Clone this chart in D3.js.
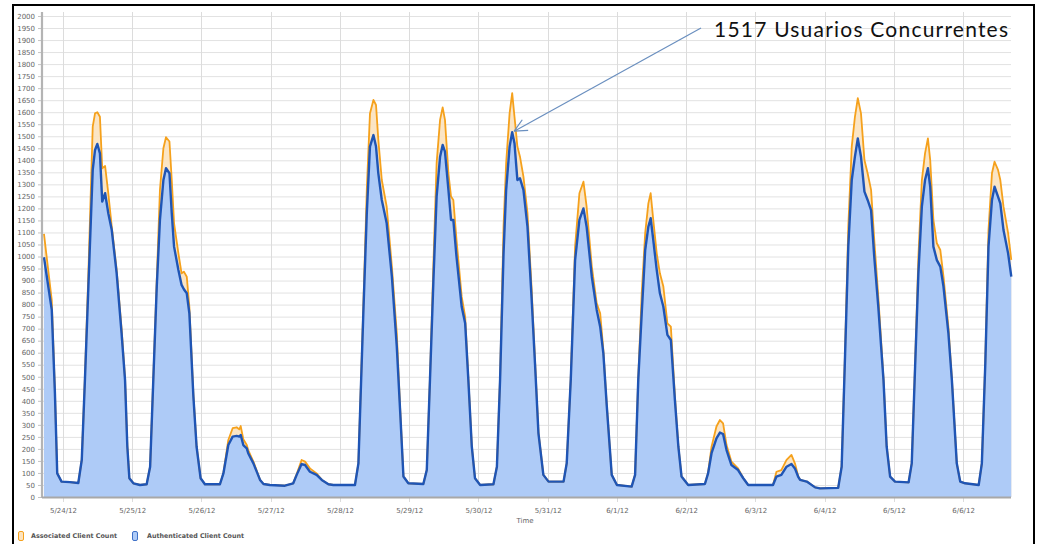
<!DOCTYPE html>
<html><head><meta charset="utf-8">
<script src="https://cdn.jsdelivr.net/npm/d3@7"></script>
<style>html,body{margin:0;padding:0;background:#fff;}svg{display:block;}</style>
</head><body>
<svg id="c" width="1039" height="544"></svg>
<script>
// hours after 5/24/12 00:00
const hours = [-6.6,-3.9,-2.8,-2.0,-0.5,2.4,5.3,6.5,7.6,8.8,10.3,11.1,11.9,12.8,13.6,14.6,15.7,16.9,18.6,20.3,21.5,22.3,23.0,24.4,26.7,29.0,30.2,31.3,32.5,33.6,34.8,35.7,36.9,37.7,38.5,40.0,41.1,41.9,42.9,43.8,45.2,46.3,47.7,49.2,54.4,55.6,57.3,58.8,60.2,61.1,61.6,62.5,63.7,64.2,66.0,68.3,69.5,71.7,76.9,79.8,81.0,82.7,83.9,85.6,87.9,89.7,92.0,93.7,101.2,102.4,104.1,105.3,106.4,107.6,108.5,109.3,110.5,112.2,114.0,115.7,116.9,118.0,119.7,124.9,126.1,127.2,128.4,129.5,130.7,131.6,132.4,133.6,134.5,135.3,136.4,138.2,139.4,140.5,141.7,142.8,144.6,149.2,150.4,151.5,152.7,153.6,154.8,155.7,156.5,157.5,158.4,159.6,161.0,162.4,163.6,164.8,166.5,168.3,173.5,174.6,176.0,177.5,179.0,180.4,181.5,183.3,185.0,186.2,187.3,188.5,190.2,192.0,197.1,198.3,199.4,200.6,201.8,202.9,203.7,204.6,205.8,206.9,208.1,209.5,210.7,212.1,213.3,214.4,216.7,222.5,223.6,224.8,226.5,227.7,228.8,230.0,231.7,234.0,235.8,237.5,246.1,247.3,249.0,250.8,252.5,253.7,254.8,255.5,257.8,260.7,262.4,268.7,269.9,271.0,272.2,273.4,274.5,275.5,276.6,277.8,278.9,280.1,281.2,282.6,284.4,285.5,286.7,288.4,293.1,294.2,295.4,296.5,297.7,298.8,299.8,300.6,301.7,302.9,304.1,305.2,306.9,308.1,309.8,311.0,312.7,317.4,318.5,319.7,320.8,322.0,322.9,324.1,324.9,326.0,327.6,328.7];
const authenticated = [997,778,431,98,64,62,58,154,487,875,1360,1443,1468,1429,1228,1263,1180,1110,930,681,487,209,78,57,50,53,126,487,875,1152,1318,1367,1346,1180,1041,944,882,864,847,764,417,209,78,53,53,98,216,251,254,251,258,216,202,182,140,71,54,50,47,57,92,137,133,105,92,71,53,50,50,140,764,1180,1457,1505,1457,1346,1235,1138,916,625,348,85,57,54,112,487,902,1249,1415,1464,1436,1277,1152,1152,999,791,722,487,209,78,50,53,126,487,1013,1277,1457,1517,1471,1318,1325,1277,1124,833,556,265,92,64,64,140,487,985,1152,1200,1124,916,778,708,597,376,92,50,43,92,487,764,1027,1124,1159,1069,944,847,791,674,653,403,209,85,50,54,98,182,244,268,262,195,133,112,78,50,50,85,92,126,137,119,85,71,64,40,36,38,126,556,1041,1318,1415,1491,1415,1270,1235,1193,999,791,487,209,85,64,61,140,556,930,1207,1318,1367,1290,1041,985,958,875,681,487,140,64,57,50,140,556,1041,1235,1290,1249,1221,1110,1013,916];
const associated = [1094,819,440,98,64,62,58,154,500,930,1540,1595,1600,1581,1367,1376,1263,1124,944,701,495,212,78,57,50,53,126,495,902,1277,1450,1496,1478,1318,1138,1013,930,937,916,791,425,212,78,53,53,100,237,286,290,281,295,240,216,195,147,71,54,50,47,57,95,154,147,119,98,71,53,50,50,140,790,1277,1595,1651,1630,1485,1318,1207,958,681,360,85,57,54,112,495,972,1387,1568,1620,1568,1346,1249,1235,1069,833,750,495,212,78,50,53,126,495,1124,1387,1595,1679,1581,1457,1415,1332,1180,875,570,270,92,64,64,140,495,1041,1263,1311,1207,958,805,764,611,380,92,50,43,92,495,847,1097,1221,1263,1152,1013,930,875,722,708,420,212,85,50,54,100,209,293,320,306,216,147,119,78,50,50,105,112,154,175,140,88,71,64,40,36,38,126,570,1124,1457,1581,1658,1595,1401,1346,1277,1069,833,495,212,85,64,61,140,570,999,1318,1429,1491,1401,1152,1055,1027,916,708,495,140,64,57,50,140,570,1110,1346,1394,1360,1318,1207,1097,986];
const dayTickLabels = ["5/24/12","5/25/12","5/26/12","5/27/12","5/28/12","5/29/12","5/30/12","5/31/12","6/1/12","6/2/12","6/3/12","6/4/12","6/5/12","6/6/12"];
const yTickValues = d3.range(0, 2001, 50);
const seriesNames = ["Associated Client Count","Authenticated Client Count"];
const annotationText = "1517 Usuarios  Concurrentes";
const annotationHour = 155.7, annotationValue = 1517;

const base = Date.UTC(2012,4,24);
const t = h => new Date(base + h*3600e3);
const data = hours.map((h,i)=>({t:t(h), a:authenticated[i], s:associated[i]}));

const svg = d3.select("#c");
const L=42, R=1011, T=16, B=497;
const x = d3.scaleUtc().domain([t(-7.28), t(328.6)]).range([L,R]);
const y = d3.scaleLinear().domain([0,2000]).range([B,T]);
const dayTicks = dayTickLabels.map((_,i)=>t(i*24));

// frame
svg.append("rect").attr("x",13).attr("y",5).attr("width",1021).attr("height",600)
  .attr("fill","#fff").attr("stroke","#000").attr("stroke-width",2);

// grid
const g = svg.append("g");
g.selectAll("line.h").data(yTickValues).join("line")
  .attr("x1",L).attr("x2",R).attr("y1",d=>y(d)+0.5).attr("y2",d=>y(d)+0.5)
  .attr("stroke","#e2e2e2").attr("stroke-width",1);
g.selectAll("line.v").data(dayTicks).join("line")
  .attr("x1",d=>Math.round(x(d))+0.5).attr("x2",d=>Math.round(x(d))+0.5).attr("y1",12).attr("y2",502)
  .attr("stroke","#dcdcdc").attr("stroke-width",1);

// areas
const areaS = d3.area().x(d=>x(d.t)).y0(B).y1(d=>y(d.s));
const areaA = d3.area().x(d=>x(d.t)).y0(B).y1(d=>y(d.a));
svg.append("path").datum(data).attr("d",areaS).attr("fill","#fbe2bf").attr("opacity",0.9);
svg.append("path").datum(data).attr("d",areaA).attr("fill","#aecbf7");
const lineS = d3.line().x(d=>x(d.t)).y(d=>y(d.s));
const lineA = d3.line().x(d=>x(d.t)).y(d=>y(d.a));
svg.append("path").datum(data).attr("d",lineS).attr("fill","none").attr("stroke","#f5a11c").attr("stroke-width",1.8).attr("stroke-linejoin","round");
svg.append("path").datum(data).attr("d",lineA).attr("fill","none").attr("stroke","#1f55b5").attr("stroke-width",2.4).attr("stroke-linejoin","round");

// axes
const yAxis = d3.axisLeft(y).tickValues(yTickValues).tickFormat(d3.format("d")).tickSize(4).tickPadding(3);
const ya = svg.append("g").attr("transform",`translate(${L},0)`).call(yAxis);
ya.select(".domain").remove();
ya.selectAll(".tick line").attr("stroke","#c4c4c4");
ya.selectAll(".tick text").attr("font-family","DejaVu Sans").attr("font-size",7).attr("fill","#666");
svg.append("line").attr("x1",L).attr("x2",L).attr("y1",12).attr("y2",B+1).attr("stroke","#b4b4b4").attr("stroke-width",2.2);

const xAxis = d3.axisBottom(x).tickValues(dayTicks).tickFormat((d,i)=>dayTickLabels[i]).tickSize(0).tickPadding(11);
const xa = svg.append("g").attr("transform",`translate(0,${B})`).call(xAxis);
xa.select(".domain").remove();
xa.selectAll(".tick text").attr("font-family","DejaVu Sans").attr("font-size",7).attr("fill","#666");
svg.append("line").attr("x1",L).attr("x2",R).attr("y1",B+0.5).attr("y2",B+0.5).attr("stroke","#a8a8a8").attr("stroke-width",2);

svg.append("text").attr("x",525).attr("y",523).attr("text-anchor","middle")
  .attr("font-family","DejaVu Sans").attr("font-size",7).attr("fill","#666").text("Time");

// legend
const leg = svg.append("g");
const legItems = [{x:18,stroke:"#f5a11c",fill:"#fde3bd",tx:31,tl:86},{x:132,stroke:"#3f71c8",fill:"#aecbf7",tx:147,tl:97}];
legItems.forEach((it,i)=>{
  leg.append("rect").attr("x",it.x+0.5).attr("y",531.5).attr("width",5).attr("height",9).attr("rx",1.5)
    .attr("fill",it.fill).attr("stroke",it.stroke).attr("stroke-width",1);
  leg.append("text").attr("x",it.tx).attr("y",538).attr("font-family","DejaVu Sans").attr("font-weight","bold")
    .attr("font-size",6.5).attr("fill","#555").attr("textLength",it.tl).attr("lengthAdjust","spacingAndGlyphs").text(seriesNames[i]);
});

// annotation
const ax = x(t(annotationHour)), ay = y(annotationValue);
const sx = 701, sy = 28;
svg.append("line").attr("x1",sx).attr("y1",sy).attr("x2",ax+2).attr("y2",ay-1)
  .attr("stroke","#6a8fbf").attr("stroke-width",1.2);
const ang = Math.atan2(sy-(ay-1), sx-(ax+2));
[0.45,-0.45].forEach(da=>{
  svg.append("line").attr("x1",ax+2).attr("y1",ay-1)
    .attr("x2",ax+2+14*Math.cos(ang+da)).attr("y2",ay-1+14*Math.sin(ang+da))
    .attr("stroke","#6a8fbf").attr("stroke-width",1.2);
});
svg.append("text").attr("x",714).attr("y",37).attr("font-family","Lato, 'Open Sans', sans-serif")
  .attr("font-size",21).attr("fill","#111").attr("textLength",294).attr("lengthAdjust","spacing").text(annotationText);
</script>
</body></html>
